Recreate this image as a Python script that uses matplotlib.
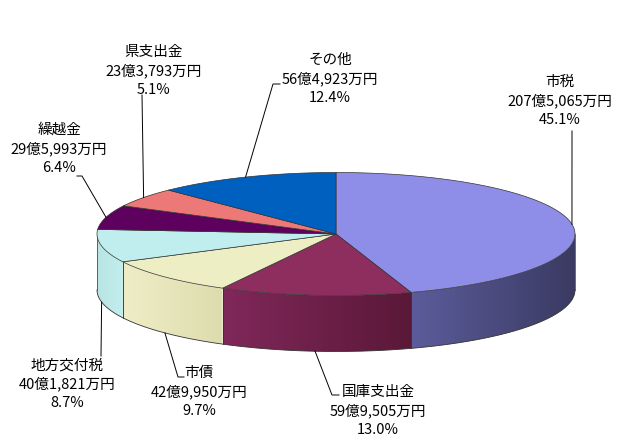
import numpy as np
import matplotlib
matplotlib.use('Agg')
import matplotlib.pyplot as plt
from matplotlib.patches import Polygon
from matplotlib.colors import to_rgb

plt.rcParams['font.family'] = ['Noto Sans CJK JP', 'DejaVu Sans']

# 歳入の内訳（時計回り、上から）
categories = ['市税', '国庫支出金', '市債', '地方交付税', '繰越金', '県支出金', 'その他']
amounts = ['207億5,065万円', '59億9,505万円', '42億9,950万円', '40億1,821万円',
           '29億5,993万円', '23億3,793万円', '56億4,923万円']
shares = [45.1, 13.0, 9.7, 8.7, 6.4, 5.1, 12.4]

top_colors = ['#8E8EE8', '#8E2E5E', '#EEEEC4', '#C0EEEE', '#5E005E', '#EC7878', '#0060C0']
side_colors = [('#5C5C9C', '#3A3A62'), ('#80285A', '#5A1838'), ('#EEEDC6', '#DEDCAE'),
               ('#B8E4E4', '#C2EEEE'), ('#4A004A', '#3A003A'), ('#C86464', '#A85050'),
               ('#0050A0', '#003C80')]

# 楕円（ピクセル座標）
cx, cy, rx, ry, depth = 336, 234, 239, 61.5, 56

# ラベル位置と引き出し線の折れ点
label_pos = [(560, 101), (378, 411), (199, 392), (67, 384), (59, 149), (154, 71), (330, 79)]
leader_pts = [[(572, 131)], [(332, 395), (339, 395)], [(178, 377), (184, 377)],
              [(101, 356)], [(82, 176), (77, 176)], [(142, 95)], [(273, 84), (280, 84)]]


def ex(t):
    return cx + rx * np.sin(np.radians(t))


def ey(t):
    return cy - ry * np.cos(np.radians(t))


fig = plt.figure(figsize=(6.42, 4.48), dpi=100)
ax = fig.add_axes([0, 0, 1, 1])
ax.set_xlim(0, 642)
ax.set_ylim(448, 0)
ax.axis('off')

vals = np.array(shares, dtype=float)
bounds = np.concatenate([[0], np.cumsum(vals) / vals.sum() * 360])
edge = '#333333'

# 側面（手前のみ、グラデーション）
for i in range(len(vals)):
    a0, a1 = max(bounds[i], 90), min(bounds[i + 1], 270)
    if a1 <= a0:
        continue
    ts = np.linspace(a0, a1, 120)
    top = list(zip(ex(ts), ey(ts)))
    bot = list(zip(ex(ts[::-1]), ey(ts[::-1]) + depth))
    poly = Polygon(top + bot, closed=True, facecolor='none', edgecolor='none', zorder=1)
    ax.add_patch(poly)
    xl, xr = ex(a1), ex(a0)
    c_l, c_r = np.array(to_rgb(side_colors[i][0])), np.array(to_rgb(side_colors[i][1]))
    f = np.linspace(0, 1, 256)[None, :, None]
    grad = c_l * (1 - f) + c_r * f
    im = ax.imshow(grad, extent=[xl, xr, cy + ry + depth + 2, cy - ry - 2],
                   aspect='auto', interpolation='bilinear', zorder=1)
    im.set_clip_path(poly)
    for t in (a0, a1):
        ax.plot([ex(t), ex(t)], [ey(t), ey(t) + depth], color=edge, lw=0.5, zorder=2)

ax.set_xlim(0, 642)
ax.set_ylim(448, 0)

tb = np.linspace(90, 270, 200)
ax.plot(ex(tb), ey(tb) + depth, color=edge, lw=0.6, zorder=2)

# 上面
for i in range(len(vals)):
    ts = np.linspace(bounds[i], bounds[i + 1], 100)
    pts = [(cx, cy)] + list(zip(ex(ts), ey(ts)))
    ax.add_patch(Polygon(pts, closed=True, facecolor=top_colors[i], edgecolor=edge, lw=0.5, zorder=3))

# ラベルと引き出し線
for i in range(len(vals)):
    mid = (bounds[i] + bounds[i + 1]) / 2
    axp, ayp = ex(mid), ey(mid)
    if 90 < mid < 270:
        ayp += depth
    pts = [(axp, ayp)] + leader_pts[i]
    ax.plot([p[0] for p in pts], [p[1] for p in pts], color='black', lw=0.7, zorder=4)
    txt = '%s\n%s\n%.1f%%' % (categories[i], amounts[i], shares[i])
    ax.text(label_pos[i][0], label_pos[i][1], txt, ha='center', va='center',
            multialignment='center', fontsize=10.5, linespacing=1.4, zorder=5)

fig.savefig('out.png', dpi=100)
